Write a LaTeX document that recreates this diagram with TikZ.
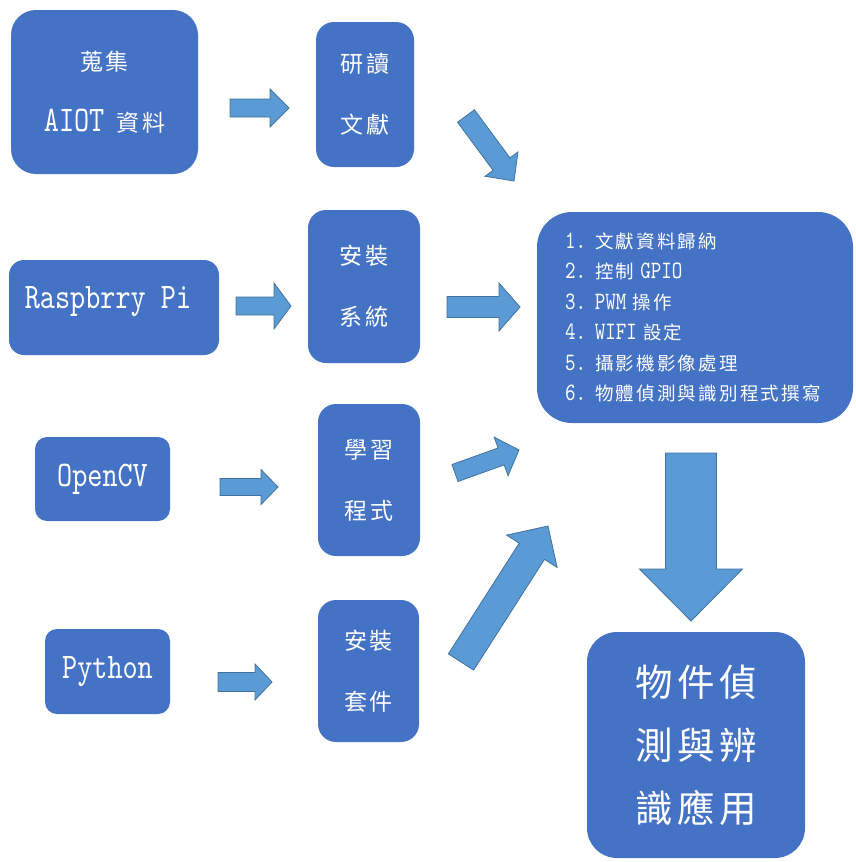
\documentclass[tikz,border=0pt]{standalone}
\usepackage{fontspec}
\newfontfamily\cjk[LetterSpace=12]{Noto Sans CJK TC}
\newfontfamily\latt[FakeStretch=0.8]{lmmono10-regular.otf}
\usetikzlibrary{calc}
\definecolor{boxblue}{RGB}{68,114,196}
\definecolor{arrfill}{RGB}{91,155,213}
\definecolor{arrline}{RGB}{65,113,156}
\tikzset{
  bluebox/.style={fill=boxblue, rounded corners=#1, inner sep=0pt, text=white, align=center},
  blockarr/.style={fill=arrfill, draw=arrline, line width=0.8pt, line join=miter},
  smalltxt/.style={font=\cjk\fontsize{23}{61}\selectfont},
}
\newcommand{\lat}[2]{{\latt\fontsize{#1}{#1}\selectfont #2}}
% tail, tip, body half width, head half width, head length
\newcommand{\blockarrow}[5]{%
  \coordinate (hb) at ($(#2)!#5!(#1)$);
  \draw[blockarr] ($(#1)!#3!90:(#2)$) -- ($(hb)!#3!90:(#2)$) -- ($(hb)!#4!90:(#2)$)
    -- (#2) -- ($(hb)!#4!-90:(#2)$) -- ($(hb)!#3!-90:(#2)$) -- ($(#1)!#3!-90:(#2)$) -- cycle;}
\begin{document}
\begin{tikzpicture}[x=1pt,y=-1pt]
\useasboundingbox (0,0) rectangle (855,862);
% boxes
\node[bluebox=25pt, minimum width=187pt, minimum height=164pt, smalltxt] (b1) at (104.5,92)
  {蒐集\\\lat{36}{AIOT}\hspace{12pt}資料};
\node[bluebox=18pt, minimum width=98pt, minimum height=145pt, smalltxt] (b2) at (365,94.5)
  {研讀\\文獻};
\node[bluebox=15pt, minimum width=210pt, minimum height=95pt] (b3) at (114,307.5)
  {\raisebox{20pt}{\lat{36}{Raspbrry Pi}}\hspace{12pt}};
\node[bluebox=18pt, minimum width=112pt, minimum height=153pt, smalltxt] (b4) at (364,286.5)
  {安裝\\系統};
\node[bluebox=35pt, minimum width=316pt, minimum height=211pt, align=left, text width=260pt,
  inner xsep=28pt, font=\cjk\fontsize{18.5}{30.4}\selectfont] (b5) at (695,317.5)
  {\makebox[30pt][l]{\lat{25}{1.}}文獻資料歸納\\
   \makebox[30pt][l]{\lat{25}{2.}}控制 \lat{25}{GPIO}\\
   \makebox[30pt][l]{\lat{25}{3.}}\lat{25}{PWM} 操作\\
   \makebox[30pt][l]{\lat{25}{4.}}\lat{25}{WIFI} 設定\\
   \makebox[30pt][l]{\lat{25}{5.}}攝影機影像處理\\
   \makebox[30pt][l]{\lat{25}{6.}}物體偵測與識別程式撰寫};
\node[bluebox=12pt, minimum width=135pt, minimum height=84pt] (b6) at (102.5,479)
  {\lat{36}{OpenCV}};
\node[bluebox=18pt, minimum width=102pt, minimum height=152pt, smalltxt] (b7) at (369,480)
  {學習\\程式};
\node[bluebox=12pt, minimum width=125pt, minimum height=85pt] (b8) at (107.5,671.5)
  {\lat{36}{Python}};
\node[bluebox=18pt, minimum width=101pt, minimum height=142pt, smalltxt] (b9) at (368.5,671)
  {安裝\\套件};
\node[bluebox=30pt, minimum width=218pt, minimum height=226pt,
  font=\cjk\fontsize{37.5}{63}\selectfont] (b10) at (696,745)
  {物件偵\\測與辨\\識應用};
% arrow end points
\coordinate (a1t) at (230,108);  \coordinate (a1h) at (289,108);
\coordinate (a2t) at (466,116);  \coordinate (a2h) at (514,181);
\coordinate (a3t) at (236,306);  \coordinate (a3h) at (291,306);
\coordinate (a4t) at (447,307);  \coordinate (a4h) at (520,307);
\coordinate (a5t) at (220,487);  \coordinate (a5h) at (278,487);
\coordinate (a6t) at (455,473);  \coordinate (a6h) at (519,450);
\coordinate (a7t) at (218,682);  \coordinate (a7h) at (272,682);
\coordinate (a8t) at (461,662);  \coordinate (a8h) at (548,526);
\coordinate (a9t) at (691,453);  \coordinate (a9h) at (691,621);
% block arrows
\blockarrow{a1t}{a1h}{9pt}{19pt}{19pt}
\blockarrow{a2t}{a2h}{10.5pt}{20.5pt}{21pt}
\blockarrow{a3t}{a3h}{9pt}{23pt}{17pt}
\blockarrow{a4t}{a4h}{10.5pt}{24pt}{21pt}
\blockarrow{a5t}{a5h}{8.5pt}{17.5pt}{17pt}
\blockarrow{a6t}{a6h}{9pt}{20.5pt}{19pt}
\blockarrow{a7t}{a7h}{9.5pt}{18pt}{17pt}
\blockarrow{a8t}{a8h}{15pt}{30pt}{30pt}
\blockarrow{a9t}{a9h}{25.5pt}{51.5pt}{52pt}
\end{tikzpicture}
\end{document}
